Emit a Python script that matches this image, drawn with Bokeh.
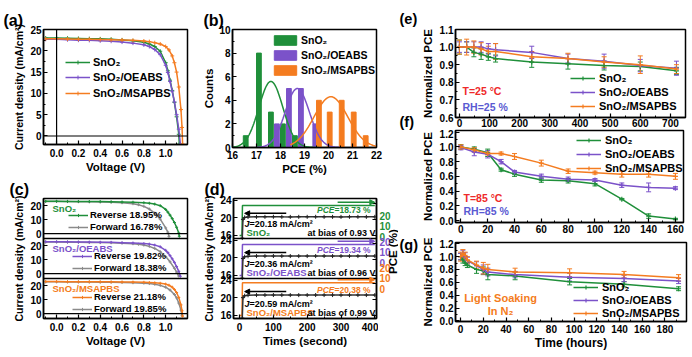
import math
import numpy as np
from bokeh.plotting import figure
from bokeh.layouts import row, column
from bokeh.models import (Range1d, LinearAxis, Label, Legend, LegendItem, Whisker, TeeHead,
                          ColumnDataSource, SingleIntervalTicker, FixedTicker, PrintfTickFormatter,
                          Arrow, NormalHead, Span)
from bokeh.embed import file_html
from bokeh.resources import INLINE

FONT = "Liberation Sans"
GREEN = "#1f8f3a"
PURPLE = "#7b52c9"
ORANGE = "#f47c20"
GRAY = "#8a8a8a"
RED = "#ee2a2a"
BLUE = "#5a5ad2"

labels3 = ["SnO₂", "SnO₂/OEABS", "SnO₂/MSAPBS"]

# ---------------- (a) J-V curves ----------------
a_v_sno2 = [-0.1, 0.0, 0.1, 0.2, 0.3, 0.4, 0.5, 0.6, 0.7, 0.8, 0.85, 0.9, 0.95, 1.0, 1.02, 1.04, 1.06, 1.08, 1.1, 1.12, 1.125]
a_j_sno2 = [23.0, 23.0, 22.95, 22.9, 22.85, 22.8, 22.7, 22.55, 22.35, 22.0, 21.6, 21.0, 19.9, 17.2, 15.3, 13.1, 10.7, 7.9, 4.5, 0.4, -1.9]
a_v_oeabs = [-0.1, 0.0, 0.1, 0.2, 0.3, 0.4, 0.5, 0.6, 0.7, 0.8, 0.85, 0.9, 0.95, 1.0, 1.02, 1.04, 1.06, 1.08, 1.1, 1.12, 1.135]
a_j_oeabs = [22.7, 22.7, 22.6, 22.5, 22.45, 22.35, 22.25, 22.05, 21.8, 21.4, 21.0, 20.3, 19.1, 16.6, 14.9, 12.8, 10.5, 8.0, 5.0, 1.6, -1.9]
a_v_msapbs = [-0.1, 0.0, 0.1, 0.2, 0.3, 0.4, 0.5, 0.6, 0.7, 0.8, 0.85, 0.9, 0.95, 1.0, 1.03, 1.06, 1.08, 1.1, 1.12, 1.14, 1.15, 1.155]
a_j_msapbs = [22.8, 22.8, 22.75, 22.7, 22.7, 22.65, 22.6, 22.55, 22.45, 22.3, 22.15, 21.9, 21.6, 21.0, 20.2, 18.8, 17.2, 15.0, 11.5, 6.2, 2.0, -1.9]

# ---------------- (b) PCE histograms ----------------
b_x_sno2 = [16.55, 17.1, 17.6, 18.1, 18.6]
b_n_sno2 = [1, 8, 3, 2, 1]
b_x_oeabs = [17.85, 18.35, 18.85, 19.45]
b_n_oeabs = [2, 5, 5, 2]
b_x_msapbs = [19.6, 20.05, 20.55, 21.05, 21.55]
b_n_msapbs = [4, 3, 4, 3, 1]
# Gaussian fits: centre, height, width, drawn span
b_fit_center = [17.6, 18.7, 20.1]
b_fit_height = [5.6, 5.0, 4.3]
b_fit_sigma = [0.5, 0.5, 0.7]
b_fit_span = [(16.0, 19.6), (17.0, 20.5), (18.4, 22.0)]

# ---------------- (c) hysteresis ----------------
c_fwd_v_sno2 = [-0.1, 0.0, 0.1, 0.2, 0.3, 0.4, 0.5, 0.6, 0.7, 0.75, 0.8, 0.85, 0.9, 0.95, 1.0, 1.02, 1.03]
c_fwd_j_sno2 = [22.9, 22.9, 22.8, 22.7, 22.6, 22.5, 22.3, 22.0, 21.3, 20.6, 19.4, 17.5, 14.6, 10.3, 4.0, 1.0, -2.0]
c_fwd_v_oeabs = [-0.1, 0.0, 0.1, 0.2, 0.3, 0.4, 0.5, 0.6, 0.7, 0.75, 0.8, 0.85, 0.9, 0.95, 1.0, 1.04, 1.08, 1.1, 1.12]
c_fwd_j_oeabs = [22.5, 22.5, 22.4, 22.3, 22.2, 22.1, 22.0, 21.7, 21.3, 20.9, 20.3, 19.4, 17.9, 15.6, 12.2, 8.4, 3.8, 1.0, -1.8]
c_fwd_v_msapbs = [-0.1, 0.0, 0.1, 0.2, 0.3, 0.4, 0.5, 0.6, 0.7, 0.8, 0.85, 0.9, 0.95, 1.0, 1.04, 1.08, 1.1, 1.12, 1.14, 1.15]
c_fwd_j_msapbs = [22.6, 22.6, 22.55, 22.5, 22.45, 22.4, 22.3, 22.2, 22.0, 21.7, 21.4, 20.9, 20.1, 18.8, 16.8, 13.6, 11.2, 7.5, 2.5, -1.5]
c_rev_text = ["Reverse 18.95%", "Reverse 19.82%", "Reverse 21.18%"]
c_fwd_text = ["Forward 16.78%", "Forward 18.38%", "Forward 19.85%"]
c_ticks = [0, 10, 20]

# ---------------- (d) steady-state output ----------------
d_time = [8, 10, 15, 25, 50, 75, 100, 125, 150, 175, 200, 225, 250, 275, 300, 325, 350, 375, 400]
d_j_sno2 = [15.3, 19.6, 20.05, 20.15, 20.18, 20.18, 20.2, 20.18, 20.17, 20.18, 20.18, 20.19, 20.18, 20.18, 20.17, 20.18, 20.18, 20.18, 20.18]
d_j_oeabs = [15.3, 19.8, 20.2, 20.3, 20.35, 20.36, 20.37, 20.36, 20.36, 20.35, 20.36, 20.36, 20.37, 20.36, 20.36, 20.35, 20.36, 20.36, 20.36]
d_j_msapbs = [15.3, 20.0, 20.45, 20.55, 20.58, 20.59, 20.6, 20.59, 20.59, 20.58, 20.59, 20.6, 20.59, 20.59, 20.58, 20.59, 20.59, 20.59, 20.59]
d_pce_time = [0, 7, 8.5, 400]
d_pce_sno2 = [0.0, 0.0, 18.73, 18.73]
d_pce_oeabs = [0.0, 0.0, 19.34, 19.34]
d_pce_msapbs = [0.0, 0.0, 20.38, 20.38]
d_j_text = ["=20.18 mA/cm²", "=20.36 mA/cm²", "=20.59 mA/cm²"]
d_pce_text = ["=18.73 %", "=19.34 %", "=20.38 %"]
d_bias_text = ["at bias of 0.93 V", "at bias of 0.96 V", "at bias of 0.99 V"]
d_j_ticks = [16, 20, 24]
d_pce_ticks = [0, 10, 20]

# ---------------- (e) T=25 C, RH=25 % ----------------
e_time = [0, 24, 48, 72, 96, 120, 240, 360, 480, 600, 720]
e_sno2 = [1.0, 1.0, 0.97, 0.96, 0.945, 0.935, 0.915, 0.905, 0.895, 0.89, 0.865]
e_oeabs = [1.0, 1.0, 1.0, 1.0, 0.99, 0.985, 0.97, 0.935, 0.92, 0.895, 0.88]
e_msapbs = [1.0, 1.0, 1.0, 0.99, 0.975, 0.975, 0.945, 0.935, 0.915, 0.9, 0.875]
e_err_sno2 = [0.04, 0.03, 0.025, 0.03, 0.02, 0.02, 0.03, 0.03, 0.025, 0.025, 0.02]
e_err_oeabs = [0.03, 0.03, 0.03, 0.03, 0.03, 0.035, 0.035, 0.025, 0.04, 0.035, 0.04]
e_err_msapbs = [0.04, 0.045, 0.035, 0.035, 0.03, 0.045, 0.03, 0.03, 0.03, 0.05, 0.025]

# ---------------- (f) T=85 C, RH=85 % ----------------
f_time = [0, 10, 20, 30, 40, 60, 80, 100, 120, 140, 160]
f_sno2 = [1.0, 0.97, 0.92, 0.69, 0.63, 0.55, 0.54, 0.50, 0.29, 0.06, 0.02]
f_oeabs = [0.99, 0.93, 0.90, 0.80, 0.66, 0.60, 0.56, 0.55, 0.48, 0.45, 0.44]
f_msapbs = [1.0, 0.96, 0.91, 0.91, 0.87, 0.78, 0.67, 0.65, 0.63, 0.63, 0.60]
f_err_sno2 = [0.03, 0.03, 0.05, 0.02, 0.03, 0.03, 0.03, 0.03, 0.01, 0.03, 0.01]
f_err_oeabs = [0.03, 0.05, 0.05, 0.03, 0.02, 0.03, 0.03, 0.02, 0.03, 0.06, 0.02]
f_err_msapbs = [0.03, 0.03, 0.02, 0.02, 0.04, 0.04, 0.03, 0.02, 0.04, 0.04, 0.04]

# ---------------- (g) light soaking in N2 ----------------
g_time = [0, 2, 4, 6, 14, 20, 24, 48, 96, 144, 192]
g_sno2 = [1.0, 0.95, 0.9, 0.87, 0.8, 0.78, 0.72, 0.70, 0.61, 0.57, 0.5]
g_oeabs = [1.0, 1.05, 1.0, 0.94, 0.86, 0.8, 0.76, 0.72, 0.68, 0.66, 0.62]
g_msapbs = [1.0, 1.05, 1.02, 0.95, 0.87, 0.82, 0.8, 0.76, 0.75, 0.72, 0.67]
g_err_sno2 = [0.05, 0.05, 0.04, 0.04, 0.06, 0.06, 0.08, 0.06, 0.05, 0.04, 0.03]
g_err_oeabs = [0.05, 0.05, 0.06, 0.05, 0.06, 0.07, 0.06, 0.05, 0.06, 0.05, 0.04]
g_err_msapbs = [0.07, 0.06, 0.05, 0.05, 0.06, 0.09, 0.08, 0.06, 0.06, 0.05, 0.05]


# ================= helpers =================
class Geo:
    def __init__(self, ox, oy, L, R, T, B, xr, yr):
        self.ox, self.oy = ox, oy
        self.L, self.R, self.T, self.B = L, R, T, B
        self.xr, self.yr = xr, yr

    def x(self, px):
        f = (px - self.ox - self.L) / (self.R - self.L)
        return self.xr[0] + f * (self.xr[1] - self.xr[0])

    def y(self, py, yr=None):
        yr = yr or self.yr
        f = (self.oy + self.B - py) / (self.B - self.T)
        return yr[0] + f * (yr[1] - yr[0])


def make_fig(w, h, g):
    p = figure(frame_width=g.R - g.L, frame_height=g.B - g.T,
               x_range=Range1d(*g.xr), y_range=Range1d(*g.yr),
               min_border_left=g.L, min_border_right=w - g.R, min_border_top=g.T,
               min_border_bottom=h - g.B, output_backend="svg", toolbar_location=None)
    p.grid.visible = False
    p.outline_line_color = "black"
    p.outline_line_width = 1.5
    p.outline_line_alpha = 1.0
    p.background_fill_color = "white"
    p.border_fill_color = "white"
    return p


def overlay(w, h, x0, y0):
    p = figure(width=w, height=h, x_range=Range1d(x0, x0 + w), y_range=Range1d(y0 + h, y0),
               min_border_left=0, min_border_right=0, min_border_top=0, min_border_bottom=0,
               x_axis_location=None, y_axis_location=None, output_backend="svg",
               toolbar_location=None, title=None)
    p.grid.visible = False
    p.outline_line_color = None
    p.background_fill_color = "white"
    p.border_fill_color = "white"
    return p


def panel_title(p, text, offset, standoff=2):
    p.title.text = text
    p.title.align = "left"
    p.title.offset = offset
    p.title.standoff = standoff
    p.title.text_font = FONT
    p.title.text_font_size = "16px"
    p.title.text_font_style = "bold"
    p.title.text_color = "black"


def style_axis(ax, label="", lsize="11px", tsize="10px", standoff=2, lstandoff=1):
    ax.axis_label = label if label else None
    ax.axis_label_text_font = FONT
    ax.axis_label_text_font_style = "bold"
    ax.axis_label_text_font_size = lsize
    ax.axis_label_text_color = "black"
    ax.axis_label_standoff = lstandoff
    ax.major_label_text_font = FONT
    ax.major_label_text_font_style = "bold"
    ax.major_label_text_font_size = tsize
    ax.major_label_text_color = "black"
    ax.major_label_standoff = standoff
    ax.axis_line_width = 1.5
    ax.axis_line_color = "black"
    ax.major_tick_in = 4
    ax.major_tick_out = 0
    ax.minor_tick_in = 2
    ax.minor_tick_out = 0
    ax.major_tick_line_width = 1.2
    ax.major_tick_line_color = "black"
    ax.minor_tick_line_color = "black"


def put(p, x, y, text, size="10px", color="black", align="left", style="bold",
        angle=0.0, yname="default", baseline="middle"):
    p.add_layout(Label(x=x, y=y, text=text, text_font=FONT, text_font_size=size,
                       text_font_style=style, text_color=color, text_align=align,
                       text_baseline=baseline, angle=angle, y_range_name=yname))


def make_legend(p, items, loc, size="11px", gw=25, gh=10, lh=12, spacing=3, standoff=4):
    leg = Legend(items=[LegendItem(label=lab, renderers=rs) for lab, rs in items],
                 location=loc, border_line_alpha=0, background_fill_alpha=0,
                 padding=0, margin=0, spacing=spacing, glyph_width=gw, glyph_height=gh,
                 label_height=lh, label_standoff=standoff, label_text_font=FONT,
                 label_text_font_style="bold", label_text_font_size=size,
                 label_text_color="black")
    p.add_layout(leg)


COLORS = [GREEN, PURPLE, ORANGE]
JLABEL = "Current density (mA/cm²)"

# ================= (a) =================
ga = Geo(0, 0, 43, 187, 29, 144, (-0.12, 1.2), (-2.0, 25.0))
pa = make_fig(200, 174, ga)
panel_title(pa, "(a)", -40)
style_axis(pa.xaxis[0], "Voltage (V)", lsize="11.5px", standoff=4, lstandoff=1)
pa.xaxis[0].ticker = SingleIntervalTicker(interval=0.2, num_minor_ticks=2)
pa.xaxis[0].formatter = PrintfTickFormatter(format="%.1f")
style_axis(pa.yaxis[0], JLABEL, lsize="10.5px", standoff=2, lstandoff=2)
pa.yaxis[0].ticker = SingleIntervalTicker(interval=5, num_minor_ticks=2)
pa.add_layout(Span(location=0, dimension="width", line_color="black", line_width=1.2))
pa.add_layout(Span(location=0, dimension="height", line_color="black", line_width=1.2))
a_leg_center = [62, 77, 93]
for v, j, c, lab, yc in zip([a_v_sno2, a_v_oeabs, a_v_msapbs], [a_j_sno2, a_j_oeabs, a_j_msapbs],
                            COLORS, labels3, a_leg_center):
    l = pa.line(v, j, line_color=c, line_width=1.5)
    s = pa.scatter(v, j, marker="cross", size=4, line_color=c, line_width=1)
    make_legend(pa, [(lab, [l, s])], (22, 144 - (yc + 6)), size="11px", gw=25, gh=10, lh=12,
                spacing=0, standoff=3)

# ================= (b) =================
gb = Geo(200, 0, 29, 173, 29, 147, (16.0, 22.0), (0.0, 10.0))
pb = make_fig(194, 174, gb)
panel_title(pb, "(b)", -29)
style_axis(pb.xaxis[0], "PCE (%)", lsize="11.5px", standoff=3, lstandoff=1)
pb.xaxis[0].ticker = SingleIntervalTicker(interval=1, num_minor_ticks=2)
style_axis(pb.yaxis[0], "Counts", lsize="11.5px", standoff=2, lstandoff=1)
pb.yaxis[0].ticker = SingleIntervalTicker(interval=2, num_minor_ticks=2)
items = []
for xs, ns, c, lab in zip([b_x_sno2, b_x_oeabs, b_x_msapbs], [b_n_sno2, b_n_oeabs, b_n_msapbs], COLORS, labels3):
    r = pb.vbar(x=xs, top=ns, width=0.2, fill_color=c, line_color=c)
    items.append((lab, [r]))
for mu, hgt, sig, span, c in zip(b_fit_center, b_fit_height, b_fit_sigma, b_fit_span, COLORS):
    xx = np.linspace(span[0], span[1], 90)
    yy = hgt * np.exp(-(xx - mu) ** 2 / (2 * sig ** 2))
    pb.line(xx, yy, line_color=c, line_width=1.5)
make_legend(pb, items, (39, 71), size="10.5px", gw=28, gh=12, lh=12, spacing=3, standoff=2)

# ================= (c) =================
c_lo, c_hi = -3.5, 25.0
c_span = c_hi - c_lo
gc = Geo(0, 174, 43, 187, 23, 143, (-0.12, 1.2), (c_lo, c_lo + 3 * c_span))
pc = make_fig(200, 183, gc)
panel_title(pc, "(c)", -34)
style_axis(pc.xaxis[0], "Voltage (V)", lsize="11.5px", standoff=4, lstandoff=1)
pc.xaxis[0].ticker = SingleIntervalTicker(interval=0.2, num_minor_ticks=2)
pc.xaxis[0].formatter = PrintfTickFormatter(format="%.1f")
style_axis(pc.yaxis[0], JLABEL, lsize="10.5px", standoff=2, lstandoff=2)
tick_pos, overrides = [], {}
for k in range(3):
    off = (2 - k) * c_span
    pc.extra_y_ranges[f"c{k}"] = Range1d(c_lo - off, c_lo + 3 * c_span - off)
    for t in c_ticks:
        tick_pos.append(t + off)
        overrides[t + off] = str(t)
pc.yaxis[0].ticker = FixedTicker(ticks=tick_pos)
pc.yaxis[0].major_label_overrides = overrides
for k in (1, 2):
    pc.add_layout(Span(location=c_lo + k * c_span, dimension="width", line_color="black", line_width=1.5))
rev_v = [a_v_sno2, a_v_oeabs, a_v_msapbs]
rev_j = [a_j_sno2, a_j_oeabs, a_j_msapbs]
fwd_v = [c_fwd_v_sno2, c_fwd_v_oeabs, c_fwd_v_msapbs]
fwd_j = [c_fwd_j_sno2, c_fwd_j_oeabs, c_fwd_j_msapbs]
c_title_y = [207, 247, 287]
c_leg_x = [68, 72, 72]
c_leg_bottom = [231, 272, 313]
for k in range(3):
    yn = f"c{k}"
    pc.add_layout(Span(location=0, dimension="width", line_color="black", line_width=1.2, y_range_name=yn))
    lf = pc.line(fwd_v[k], fwd_j[k], line_color=GRAY, line_width=1.5, y_range_name=yn)
    sf = pc.scatter(fwd_v[k], fwd_j[k], marker="cross", size=3, line_color=GRAY, y_range_name=yn)
    lr = pc.line(rev_v[k], rev_j[k], line_color=COLORS[k], line_width=1.5, y_range_name=yn)
    sr = pc.scatter(rev_v[k], rev_j[k], marker="cross", size=3, line_color=COLORS[k], y_range_name=yn)
    make_legend(pc, [(c_rev_text[k], [lr, sr]), (c_fwd_text[k], [lf, sf])],
                (c_leg_x[k] - 43, 317 - c_leg_bottom[k]), size="9.5px", gw=20, gh=8, lh=10,
                spacing=1, standoff=2)
    put(pc, gc.x(52), gc.y(c_title_y[k]), labels3[k], size="9.5px", color=COLORS[k])

# ================= (d) =================
d_lo, d_hi = 15.2, 24.4
d_span = d_hi - d_lo
p_lo, p_hi = -1.9, 23.1
p_span = p_hi - p_lo
gd = Geo(200, 174, 29, 172, 21, 141, (-18.0, 405.0), (d_lo, d_lo + 3 * d_span))
pdd = make_fig(174, 183, gd)
panel_title(pdd, "(d)", -29)
style_axis(pdd.xaxis[0], "Times (second)", lsize="11.5px", standoff=4, lstandoff=1)
pdd.xaxis[0].ticker = SingleIntervalTicker(interval=100, num_minor_ticks=2)
style_axis(pdd.yaxis[0], JLABEL, lsize="10.5px", standoff=2, lstandoff=2)
pdd.extra_y_ranges["pall"] = Range1d(p_lo, p_lo + 3 * p_span)
jt, jo, pt, po = [], {}, [], {}
for k in range(3):
    off = (2 - k) * d_span
    poff = (2 - k) * p_span
    pdd.extra_y_ranges[f"dj{k}"] = Range1d(d_lo - off, d_lo + 3 * d_span - off)
    pdd.extra_y_ranges[f"dp{k}"] = Range1d(p_lo - poff, p_lo + 3 * p_span - poff)
    for t in d_j_ticks:
        jt.append(t + off)
        jo[t + off] = str(t)
    for t in d_pce_ticks:
        pt.append(t + poff)
        po[t + poff] = ""
pdd.yaxis[0].ticker = FixedTicker(ticks=jt)
pdd.yaxis[0].major_label_overrides = jo
rax = LinearAxis(y_range_name="pall")
style_axis(rax, "", standoff=0)
rax.ticker = FixedTicker(ticks=pt)
rax.major_label_overrides = po
pdd.add_layout(rax, "right")
for k in (1, 2):
    pdd.add_layout(Span(location=d_lo + k * d_span, dimension="width", line_color="black", line_width=1.5))
d_js = [d_j_sno2, d_j_oeabs, d_j_msapbs]
d_ps = [d_pce_sno2, d_pce_oeabs, d_pce_msapbs]
sub_top = [195, 235, 275]
for k in range(3):
    yj, yp = f"dj{k}", f"dp{k}"
    c = COLORS[k]
    pdd.line(d_pce_time, d_ps[k], line_color=c, line_width=1.5, y_range_name=yp)
    pdd.line(d_time, d_js[k], line_color="#333333", line_width=1.5, y_range_name=yj)
    pdd.scatter(d_time, d_js[k], marker="cross", size=4, line_color="#222222", y_range_name=yj)
    pdd.add_layout(Arrow(x_start=138, y_start=d_js[k][-1] + 0.8, x_end=15, y_end=d_js[k][-1] + 0.8,
                         line_color="black", line_width=1.5,
                         end=NormalHead(size=5, fill_color="black", line_color="black"), y_range_name=yj))
    pdd.add_layout(Arrow(x_start=290, y_start=d_ps[k][-1] + 2.0, x_end=400, y_end=d_ps[k][-1] + 2.0,
                         line_color=c, line_width=1.5,
                         end=NormalHead(size=5, fill_color=c, line_color=c), y_range_name=yp))
    st = sub_top[k]
    put(pdd, gd.x(240), gd.y(st + 25), "J", size="9px", style="bold italic")
    put(pdd, gd.x(245), gd.y(st + 25), d_j_text[k], size="9px")
    put(pdd, gd.x(242), gd.y(st + 34), labels3[k], size="9.5px", color=c)
    put(pdd, gd.x(371), gd.y(st + 34), d_bias_text[k], size="9px", align="right")
    put(pdd, gd.x(330), gd.y(st + 11), "PCE", size="8.5px", color=c, style="bold italic", align="right")
    put(pdd, gd.x(330), gd.y(st + 11), d_pce_text[k], size="8.5px", color=c)

# right-hand PCE tick texts and label of (d), drawn on a narrow canvas beside it
ovd = overlay(20, 183, 374, 174)
for k in range(3):
    bottom = 195 + 40 * (k + 1)
    for t in d_pce_ticks:
        py = bottom - (t - p_lo) / p_span * 40
        put(ovd, 375, py, str(t), size="10px", color=COLORS[k])
put(ovd, 388, 255, "PCE (%)", size="11.5px", angle=math.pi / 2, align="center")


# ================= (e)(f)(g) =================
def stability(p, t, vals, errs):
    items = []
    for v, e, c, lab in zip(vals, errs, COLORS, labels3):
        src = ColumnDataSource(dict(x=t, y=v, up=[a + b for a, b in zip(v, e)], lo=[a - b for a, b in zip(v, e)]))
        p.add_layout(Whisker(source=src, base="x", upper="up", lower="lo", line_color=c, line_width=1,
                             upper_head=TeeHead(size=5, line_color=c, line_width=1),
                             lower_head=TeeHead(size=5, line_color=c, line_width=1)))
        l = p.line("x", "y", source=src, line_color=c, line_width=1.5)
        s = p.scatter("x", "y", source=src, marker="cross", size=5, line_color=c, line_width=1.2)
        items.append((lab, [l, s]))
    return items


X3 = 414
ge = Geo(X3, 0, 448 - X3, 678 - X3, 29, 117, (-13.0, 750.0), (0.6, 1.1))
pe = make_fig(692 - X3, 129, ge)
style_axis(pe.xaxis[0], "", standoff=1)
pe.xaxis[0].ticker = SingleIntervalTicker(interval=100, num_minor_ticks=2)
style_axis(pe.yaxis[0], "Normalized PCE", lsize="11.5px", standoff=2, lstandoff=3)
pe.yaxis[0].ticker = SingleIntervalTicker(interval=0.1, num_minor_ticks=2)
pe.yaxis[0].formatter = PrintfTickFormatter(format="%.1f")
it = stability(pe, e_time, [e_sno2, e_oeabs, e_msapbs], [e_err_sno2, e_err_oeabs, e_err_msapbs])
make_legend(pe, it, (115, 5), size="11px", gw=25, gh=10, lh=12, spacing=2, standoff=4)
put(pe, ge.x(455), ge.y(90), "T=25 °C", size="10.5px", color=RED)
put(pe, ge.x(455), ge.y(106), "RH=25 %", size="10.5px", color=BLUE)

gf = Geo(X3, 129, 447 - X3, 675 - X3, 1, 93, (-4.0, 166.0), (-0.027, 1.223))
pf = make_fig(692 - X3, 108, gf)
style_axis(pf.xaxis[0], "", standoff=2)
pf.xaxis[0].ticker = SingleIntervalTicker(interval=20, num_minor_ticks=2)
style_axis(pf.yaxis[0], "Normalized PCE", lsize="11.5px", standoff=2, lstandoff=3)
pf.yaxis[0].ticker = SingleIntervalTicker(interval=0.2, num_minor_ticks=2)
pf.yaxis[0].formatter = PrintfTickFormatter(format="%.1f")
it = stability(pf, f_time, [f_sno2, f_oeabs, f_msapbs], [f_err_sno2, f_err_oeabs, f_err_msapbs])
make_legend(pf, it, (121, 48), size="11px", gw=25, gh=10, lh=12, spacing=2, standoff=4)
put(pf, gf.x(455), gf.y(197), "T=85 °C", size="10.5px", color=RED)
put(pf, gf.x(455), gf.y(210), "RH=85 %", size="10.5px", color=BLUE)

gg = Geo(X3, 237, 447 - X3, 678 - X3, 5, 84, (-4.5, 199.0), (-0.01, 1.22))
pg = make_fig(692 - X3, 120, gg)
style_axis(pg.xaxis[0], "Time (hours)", lsize="12px", standoff=3, lstandoff=0)
pg.xaxis[0].ticker = SingleIntervalTicker(interval=20, num_minor_ticks=2)
style_axis(pg.yaxis[0], "Normalized PCE", lsize="11.5px", standoff=2, lstandoff=3)
pg.yaxis[0].ticker = SingleIntervalTicker(interval=0.2, num_minor_ticks=2)
pg.yaxis[0].formatter = PrintfTickFormatter(format="%.1f")
it = stability(pg, g_time, [g_sno2, g_oeabs, g_msapbs], [g_err_sno2, g_err_oeabs, g_err_msapbs])
make_legend(pg, it, (118, 2), size="11px", gw=25, gh=10, lh=12, spacing=1, standoff=4)
put(pg, gg.x(492), gg.y(297), "Light Soaking", size="11px", color=ORANGE, align="center")
put(pg, gg.x(492), gg.y(310), "In N₂", size="11px", color=ORANGE, align="center")

# panel letters (e)-(g) on a narrow canvas left of the right-hand column
ov3 = overlay(X3 - 394, 357, 394, 0)
put(ov3, 395, 18, "(e)", size="14.5px")
put(ov3, 395, 121, "(f)", size="14.5px")
put(ov3, 395, 244, "(g)", size="14.5px")

layout = row(column(pa, pc), column(pb, row(pdd, ovd)), ov3, column(pe, pf, pg))
open("out.html", "w").write(file_html(layout, INLINE))
